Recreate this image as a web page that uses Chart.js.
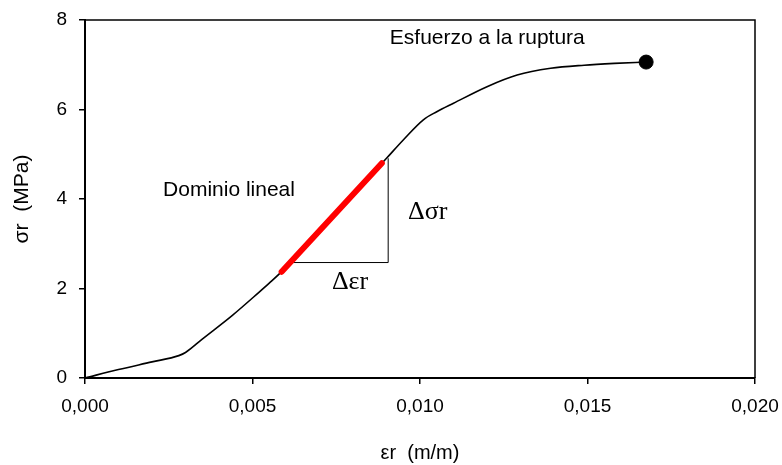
<!DOCTYPE html>
<html>
<head>
<meta charset="utf-8">
<script src="https://cdn.jsdelivr.net/npm/chart.js@4/dist/chart.umd.min.js"></script>
<style>
  html, body { margin: 0; padding: 0; background: #fff; }
  #wrap { width: 782px; height: 465px; position: relative; }
</style>
</head>
<body>
<div id="wrap"><canvas id="c" width="782" height="465"></canvas></div>
<script>
// Strain (m/m) and stress (MPa)
const strain = [0, 0.0010, 0.0020, 0.0028, 0.0030, 0.0035, 0.0044, 0.0052, 0.0055, 0.0059, 0.0070, 0.0080, 0.0090, 0.0095, 0.0101, 0.0105, 0.0110, 0.0120, 0.0129, 0.0139, 0.0149, 0.0158, 0.01675];
const stress = [0, 0.19, 0.36, 0.50, 0.57, 0.87, 1.40, 1.92, 2.12, 2.40, 3.29, 4.10, 4.91, 5.32, 5.77, 5.95, 6.14, 6.51, 6.77, 6.92, 6.99, 7.03, 7.06];

// Linear domain (red segment)
const linStrain = [0.00587, 0.00886];
const linStress = [2.375, 4.80];

// Slope triangle (Δεr, Δσr)
const triStrain = [0.00612, 0.00905, 0.00905];
const triStress = [2.58, 2.58, 4.91];

// Rupture point
const ruptureStrain = [0.01675];
const ruptureStress = [7.06];

// Axis ticks
const xTicks = [0, 0.005, 0.010, 0.015, 0.020];
const yTicks = [0, 2, 4, 6, 8];

const pts = (xs, ys) => xs.map((x, i) => ({ x: x, y: ys[i] }));

const SANS = '"Liberation Sans", Arial, Helvetica, sans-serif';
const SERIF = '"Liberation Serif", "Times New Roman", serif';

const annotations = [
  { text: 'Esfuerzo a la ruptura', x: 0.0091, y: 7.6, font: '21px ' + SANS },
  { text: 'Dominio lineal', x: 0.00233, y: 4.2, font: '21px ' + SANS },
  { text: '\u0394\u03c3r', x: 0.00964, y: 3.71, font: '26px ' + SERIF },
  { text: '\u0394\u03b5r', x: 0.00737, y: 2.15, font: '26px ' + SERIF }
];

const framePlugin = {
  id: 'frameAndText',
  afterDatasetsDraw(chart) {
    const { ctx, chartArea, scales } = chart;
    ctx.save();
    ctx.strokeStyle = '#000';
    ctx.lineWidth = 1.5;
    ctx.beginPath();
    ctx.moveTo(chartArea.left, chartArea.top);
    ctx.lineTo(chartArea.right, chartArea.top);
    ctx.lineTo(chartArea.right, chartArea.bottom);
    ctx.stroke();
    ctx.fillStyle = '#000';
    ctx.textAlign = 'left';
    ctx.textBaseline = 'middle';
    annotations.forEach(a => {
      ctx.font = a.font;
      ctx.fillText(a.text, scales.x.getPixelForValue(a.x), scales.y.getPixelForValue(a.y));
    });
    ctx.restore();
  }
};

new Chart(document.getElementById('c'), {
  type: 'scatter',
  data: {
    datasets: [
      {
        label: 'Curva',
        data: pts(strain, stress),
        showLine: true,
        borderColor: '#000',
        borderWidth: 1.6,
        pointRadius: 0,
        cubicInterpolationMode: 'monotone',
        order: 3
      },
      {
        label: 'Triángulo',
        data: pts(triStrain, triStress),
        showLine: true,
        borderColor: '#000',
        borderWidth: 1,
        pointRadius: 0,
        tension: 0,
        order: 2
      },
      {
        label: 'Dominio lineal',
        data: pts(linStrain, linStress),
        showLine: true,
        borderColor: '#ff0000',
        borderWidth: 6,
        borderCapStyle: 'round',
        pointRadius: 0,
        tension: 0,
        order: 1
      },
      {
        label: 'Ruptura',
        data: pts(ruptureStrain, ruptureStress),
        showLine: false,
        pointRadius: 7,
        pointBackgroundColor: '#000',
        pointBorderColor: '#000',
        order: 0
      }
    ]
  },
  options: {
    responsive: false,
    animation: false,
    devicePixelRatio: 1,
    layout: { padding: { top: 20, right: 27, left: 0, bottom: 0 } },
    plugins: {
      legend: { display: false },
      tooltip: { enabled: false }
    },
    scales: {
      x: {
        type: 'linear',
        min: 0, max: 0.020,
        afterBuildTicks: s => { s.ticks = xTicks.map(v => ({ value: v })); },
        afterFit: s => { s.height = 87; s.paddingLeft = 0; s.paddingRight = 0; s.paddingTop = 0; s.paddingBottom = 0; },
        ticks: {
          color: '#000',
          font: { family: SANS, size: 19 },
          padding: 11,
          maxRotation: 0,
          callback: v => v.toFixed(3).replace('.', ',')
        },
        grid: { display: true, drawOnChartArea: false, drawTicks: true, tickLength: 6, color: '#000', lineWidth: 1.5 },
        border: { display: true, color: '#000', width: 2 },
        title: {
          display: true,
          text: '\u03b5r  (m/m)',
          color: '#000',
          font: { family: SANS, size: 20 },
          padding: { top: 0, bottom: 0 }
        }
      },
      y: {
        type: 'linear',
        min: 0, max: 8,
        afterBuildTicks: s => { s.ticks = yTicks.map(v => ({ value: v })); },
        afterFit: s => { s.width = 85; s.paddingLeft = 0; s.paddingRight = 0; s.paddingTop = 0; s.paddingBottom = 0; },
        ticks: {
          color: '#000',
          font: { family: SANS, size: 19 },
          padding: 12
        },
        grid: { display: true, drawOnChartArea: false, drawTicks: true, tickLength: 6, color: '#000', lineWidth: 1.5 },
        border: { display: true, color: '#000', width: 2 },
        title: {
          display: true,
          text: '\u03c3r  (MPa)',
          color: '#000',
          font: { family: SANS, size: 21 },
          padding: { top: 10, bottom: 0 }
        }
      }
    }
  },
  plugins: [framePlugin]
});
</script>
</body>
</html>
